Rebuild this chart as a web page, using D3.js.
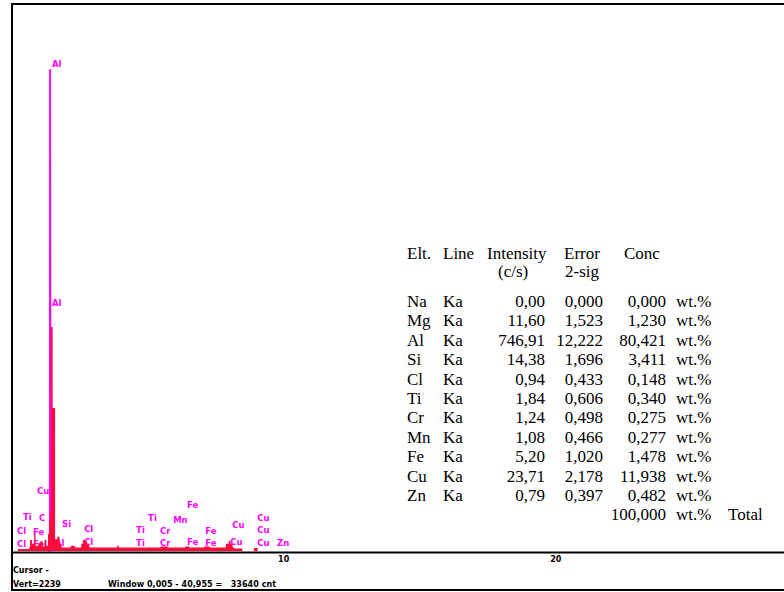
<!DOCTYPE html>
<html>
<head>
<meta charset="utf-8">
<script src="https://cdn.jsdelivr.net/npm/d3@7"></script>
<style>
  body { margin: 0; background: white; }
  svg { display: block; }
</style>
</head>
<body>
<div id="chart"></div>
<script>

// spectrum (red, filled) - energy keV / counts
var specEnergy = [0.00, 0.25, 0.66, 0.70, 0.77, 0.85, 0.90, 1.00, 1.08, 1.16, 1.23, 1.30, 1.36, 1.40, 1.44, 1.47, 1.53, 1.62, 1.70, 1.78, 1.86, 2.20, 2.34, 2.58, 2.64, 2.72, 2.80, 2.88, 3.90, 3.96, 5.50, 5.75, 6.40, 6.55, 7.10, 7.30, 7.90, 8.00, 8.06, 8.14, 8.20, 8.50, 8.92, 9.06, 9.10];
var specCounts = [0, 8, 14, 45, 30, 70, 22, 32, 40, 16, 45, 22, 70, 120, 160, 917, 585, 48, 58, 28, 14, 22, 14, 30, 45, 38, 26, 14, 22, 14, 18, 14, 18, 14, 18, 14, 30, 42, 30, 14, 10, 0, 12, 0, 0];

// overlay spectrum (magenta line)
var overEnergy = [1.38, 1.42, 1.43, 1.445, 1.46];
var overCounts = [0, 0, 1969, 1969, 0];

// peak labels
var peakNames  = ['Al', 'Al', 'Cu', 'Ti', 'C', 'Si', 'Cl', 'Fe', 'Cl', 'Fe', 'Al', 'Cl', 'Cl',
                  'Fe', 'Ti', 'Mn', 'Ti', 'Cr', 'Ti', 'Cr', 'Fe', 'Fe', 'Fe', 'Cu', 'Cu', 'Cu', 'Cu', 'Cu', 'Zn'];
var peakEnergy = [1.47, 1.47, 0.92, 0.40, 0.99, 1.84, 0.18, 0.77, 0.18, 0.77, 1.58, 2.65, 2.65,
                  6.43, 5.00, 5.92, 4.56, 5.44, 4.56, 5.44, 6.43, 7.10, 7.10, 8.09, 8.02, 9.01, 9.01, 9.01, 9.74];
var peakCounts = [1981, 1003, 233, 127, 123, 98, 70, 66, 16, 16, 20, 78, 25,
                  176, 123, 115, 74, 70, 20, 20, 25, 70, 20, 94, 25, 123, 74, 20, 20];

var tickVals = [10, 20];

// quant table
var elements  = ['Na', 'Mg', 'Al', 'Si', 'Cl', 'Ti', 'Cr', 'Mn', 'Fe', 'Cu', 'Zn'];
var lineNames = ['Ka', 'Ka', 'Ka', 'Ka', 'Ka', 'Ka', 'Ka', 'Ka', 'Ka', 'Ka', 'Ka'];
var intensity = [0.00, 11.60, 746.91, 14.38, 0.94, 1.84, 1.24, 1.08, 5.20, 23.71, 0.79];
var errors    = [0.000, 1.523, 12.222, 1.696, 0.433, 0.606, 0.498, 0.466, 1.020, 2.178, 0.397];
var conc      = [0.000, 1.230, 80.421, 3.411, 0.148, 0.340, 0.275, 0.277, 1.478, 11.938, 0.482];
var concTotal = 100.000;

var vertScale = 2239;
var winFrom = 0.005, winTo = 40.955, winCounts = 33640;

var width = 784, height = 592;
var red = '#ff0a3c', magenta = '#ff00ff';

var svg = d3.select('#chart')
  .append('svg')
  .attr('width', width)
  .attr('height', height);

var x = d3.scaleLinear().domain([0, 28.4]).range([11, 784]);
var y = d3.scaleLinear().domain([0, vertScale]).range([551, 4]);

// frame
svg.append('rect')
  .attr('x', 12).attr('y', 4)
  .attr('width', width + 10).attr('height', 586)
  .attr('fill', 'none')
  .attr('stroke', '#000')
  .attr('stroke-width', 2);

// peak labels (under spectrum)
svg.selectAll('.plabel')
  .data(peakNames)
  .enter()
  .append('text')
  .attr('class', 'plabel')
  .attr('x', function(d, i) { return x(peakEnergy[i]) + 1; })
  .attr('y', function(d, i) { return y(peakCounts[i]); })
  .style('font-family', 'DejaVu Sans, sans-serif')
  .style('font-size', '8.5px')
  .style('font-weight', 'bold')
  .style('fill', magenta)
  .text(function(d) { return d; });

// magenta overlay
var overLine = d3.line()
  .x(function(d, i) { return x(overEnergy[i]); })
  .y(function(d) { return y(d); });

svg.append('path')
  .datum(overCounts)
  .attr('d', overLine)
  .attr('fill', 'none')
  .attr('stroke', magenta)
  .attr('stroke-width', 1.5);

// red spectrum
var area = d3.area()
  .curve(d3.curveStepAfter)
  .x(function(d, i) { return x(specEnergy[i]); })
  .y0(y(0))
  .y1(function(d) { return y(d); });

svg.append('path')
  .datum(specCounts)
  .attr('d', area)
  .attr('fill', red);

// energy axis
var axis = svg.append('g')
  .attr('transform', 'translate(0,552)')
  .call(d3.axisBottom(x).tickValues(tickVals).tickSize(0).tickPadding(4).tickFormat(d3.format('d')));

axis.select('.domain')
  .attr('stroke', '#000')
  .attr('stroke-width', 2);
axis.selectAll('text')
  .style('font-family', 'DejaVu Sans, sans-serif')
  .style('font-size', '8px')
  .style('font-weight', 'bold')
  .style('fill', '#000');

// status lines
var comma = function(f) { return function(v) { return d3.format(f)(v).replace('.', ','); }; };

svg.append('text')
  .attr('x', 13).attr('y', 573)
  .style('font-family', 'DejaVu Sans, sans-serif')
  .style('font-size', '8px')
  .style('font-weight', 'bold')
  .text('Cursor -');

svg.append('text')
  .attr('x', 13).attr('y', 587)
  .style('font-family', 'DejaVu Sans, sans-serif')
  .style('font-size', '8px')
  .style('font-weight', 'bold')
  .text('Vert=' + vertScale);

svg.append('text')
  .attr('x', 108).attr('y', 587)
  .style('font-family', 'DejaVu Sans, sans-serif')
  .style('font-size', '8px')
  .style('font-weight', 'bold')
  .attr('xml:space', 'preserve')
  .attr('textLength', 168)
  .text('Window ' + comma('.3f')(winFrom) + ' - ' + comma('.3f')(winTo) + ' =   ' + winCounts + ' cnt');

// quant table
var tfont = 'Liberation Serif, Times New Roman, serif';
var tsize = '17px';
var rowY = function(i) { return 307 + i * 19.4; };

var headers = [
  { t: 'Elt.', x: 407, y: 259 },
  { t: 'Line', x: 443, y: 259 },
  { t: 'Intensity', x: 487, y: 259 },
  { t: 'Error', x: 564, y: 259 },
  { t: 'Conc', x: 624, y: 259 },
  { t: '(c/s)', x: 498, y: 277 },
  { t: '2-sig', x: 565, y: 277 }
];

svg.selectAll('.hdr')
  .data(headers)
  .enter()
  .append('text')
  .attr('class', 'hdr')
  .attr('x', function(d) { return d.x; })
  .attr('y', function(d) { return d.y; })
  .style('font-family', tfont)
  .style('font-size', tsize)
  .text(function(d) { return d.t; });

var rows = svg.selectAll('.row')
  .data(elements)
  .enter()
  .append('g')
  .attr('class', 'row')
  .attr('transform', function(d, i) { return 'translate(0,' + rowY(i) + ')'; })
  .style('font-family', tfont)
  .style('font-size', tsize);

rows.append('text').attr('x', 407).text(function(d) { return d; });
rows.append('text').attr('x', 443).text(function(d, i) { return lineNames[i]; });
rows.append('text').attr('x', 545).attr('text-anchor', 'end')
  .text(function(d, i) { return comma('.2f')(intensity[i]); });
rows.append('text').attr('x', 603).attr('text-anchor', 'end')
  .text(function(d, i) { return comma('.3f')(errors[i]); });
rows.append('text').attr('x', 666).attr('text-anchor', 'end')
  .text(function(d, i) { return comma('.3f')(conc[i]); });
rows.append('text').attr('x', 676).text('wt.%');

var tot = svg.append('g')
  .attr('transform', 'translate(0,' + rowY(elements.length) + ')')
  .style('font-family', tfont)
  .style('font-size', tsize);
tot.append('text').attr('x', 666).attr('text-anchor', 'end').text(comma('.3f')(concTotal));
tot.append('text').attr('x', 676).text('wt.%');
tot.append('text').attr('x', 728).text('Total');

</script>
</body>
</html>
